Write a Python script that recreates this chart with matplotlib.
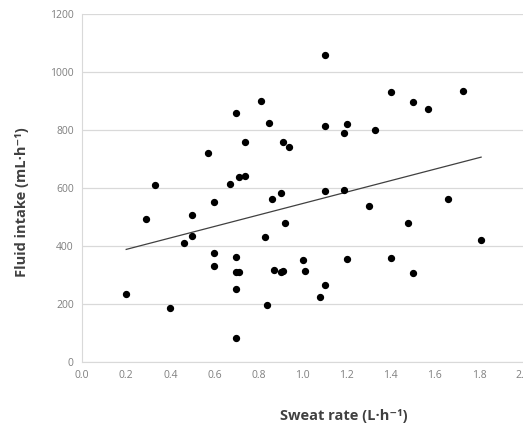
import matplotlib
matplotlib.use('Agg')
import matplotlib.pyplot as plt
import numpy as np

# sweat rate (L/h) and fluid intake (mL/h)
sweatRate = [0.20, 0.29, 0.33, 0.40, 0.46, 0.50, 0.50, 0.57, 0.60, 0.60,
             0.60, 0.67, 0.70, 0.71, 0.70, 0.70, 0.71, 0.70, 0.70, 0.74,
             0.74, 0.81, 0.83, 0.84, 0.85, 0.86, 0.87, 0.90, 0.90, 0.91,
             0.91, 0.92, 0.94, 1.00, 1.01, 1.08, 1.10, 1.10, 1.10, 1.10,
             1.19, 1.19, 1.20, 1.20, 1.30, 1.33, 1.40, 1.40, 1.48, 1.50,
             1.50, 1.57, 1.66, 1.73, 1.81]
fluidIntake = [235, 494, 610, 185, 408, 508, 434, 719, 552, 374,
               330, 614, 858, 636, 361, 310, 310, 250, 82, 641,
               760, 900, 431, 196, 825, 563, 316, 581, 310, 312,
               760, 480, 742, 351, 312, 222, 1058, 812, 589, 266,
               791, 591, 819, 353, 537, 800, 931, 358, 480, 897,
               307, 871, 563, 934, 421]

xTicks = [0.0, 0.2, 0.4, 0.6, 0.8, 1.0, 1.2, 1.4, 1.6, 1.8, 2.0]
yTicks = [0, 200, 400, 600, 800, 1000, 1200]

fontList = ['Open Sans', 'DejaVu Sans']

fig = plt.figure(figsize=(5.23, 4.26), dpi=100)
ax = fig.add_axes([0.157, 0.151, 0.843, 0.816])

ax.scatter(sweatRate, fluidIntake, s=18, color='black', zorder=3)

# linear trend over the data range
coef = np.polyfit(sweatRate, fluidIntake, 1)
xLine = np.array([min(sweatRate), max(sweatRate)])
ax.plot(xLine, np.polyval(coef, xLine), color='#404040', linewidth=0.9, zorder=2)

ax.set_xlim(0, 2.0)
ax.set_ylim(0, 1200)
ax.set_xticks(xTicks)
ax.set_yticks(yTicks)
ax.set_xticklabels(['%.1f' % v for v in xTicks])
ax.set_yticklabels([str(v) for v in yTicks])
ax.tick_params(length=0, labelsize=7.5, colors='#7f7f7f', pad=6)
for lab in ax.get_xticklabels() + ax.get_yticklabels():
    lab.set_family(fontList)

ax.grid(axis='y', color='#d9d9d9', linewidth=0.9)
ax.set_axisbelow(True)
for side in ['top', 'right']:
    ax.spines[side].set_visible(False)
ax.spines['left'].set_color('#d9d9d9')
ax.spines['bottom'].set_color('#d9d9d9')

fig.text(0.042, 0.526, 'Fluid intake (mL\u00b7h\u207b\u00b9)', rotation=90,
         ha='center', va='center', fontsize=10.5, fontweight='bold',
         color='#404040', family=fontList)
fig.text(0.657, 0.023, 'Sweat rate (L\u00b7h\u207b\u00b9)', ha='center',
         va='center', fontsize=10.5, fontweight='bold', color='#404040',
         family=fontList)

fig.savefig('out.png', dpi=100)
